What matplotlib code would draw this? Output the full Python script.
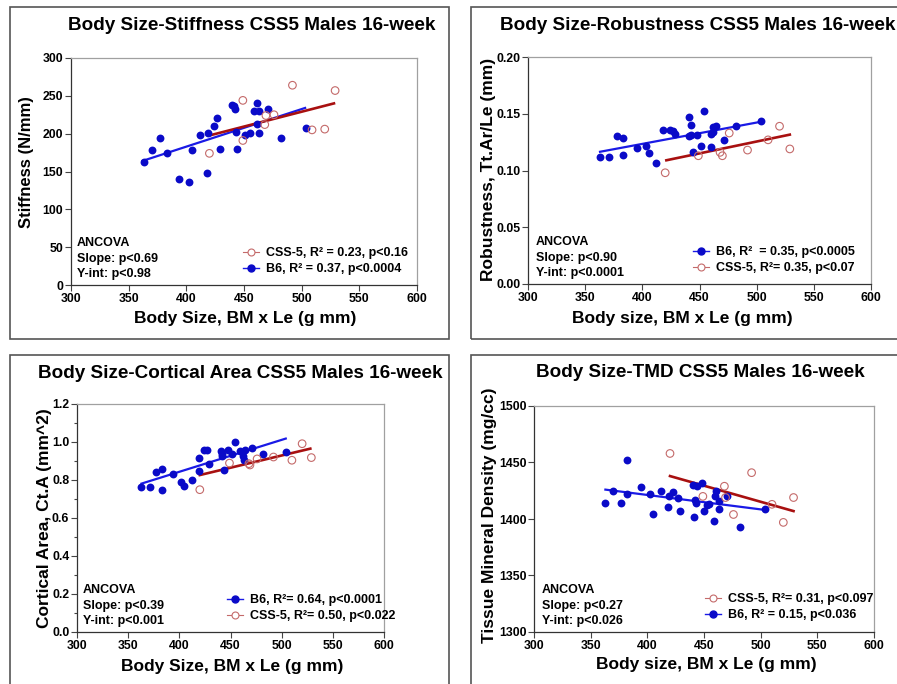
import numpy as np
import matplotlib
matplotlib.use("Agg")
import matplotlib.pyplot as plt
from matplotlib.patches import Rectangle
from matplotlib.lines import Line2D

plt.rcParams['font.family'] = ['Liberation Sans', 'DejaVu Sans']
plt.rcParams['font.weight'] = 'bold'

W, H = 897, 684

# ---- data ----
# Stiffness
stiff_b6_x = [363, 370, 377, 383, 394, 402, 405, 412, 418, 419, 424, 427, 429, 440,
              441, 442, 443, 444, 451, 455, 459, 461, 461, 463, 463, 471, 482, 504]
stiff_b6_y = [163, 178, 194, 175, 140, 136, 179, 198, 148, 201, 210, 221, 180, 238,
              236, 233, 202, 180, 198, 201, 230, 240, 213, 230, 201, 232, 194, 208]
stiff_css_x = [420, 449, 449, 468, 469, 476, 492, 509, 520, 529]
stiff_css_y = [174, 244, 191, 212, 224, 225, 264, 205, 206, 257]
# regression lines (x range, fitted y at both ends)
stiff_b6_fit_x, stiff_b6_fit_y = [362, 503], [164, 234]
stiff_css_fit_x, stiff_css_fit_y = [421, 528], [198, 240]

# Robustness
rob_b6_x = [363, 371, 378, 383, 383, 395, 403, 406, 412, 418, 424, 427, 429, 441,
            443, 441, 443, 444, 448, 451, 454, 460, 460, 462, 464, 462, 471, 482, 504]
rob_b6_y = [0.112, 0.112, 0.130, 0.129, 0.114, 0.120, 0.122, 0.115, 0.107, 0.136,
            0.136, 0.135, 0.132, 0.147, 0.140, 0.130, 0.131, 0.116, 0.131, 0.122,
            0.152, 0.121, 0.132, 0.138, 0.139, 0.134, 0.127, 0.139, 0.144]
rob_css_x = [420, 449, 468, 470, 476, 492, 510, 520, 529]
rob_css_y = [0.098, 0.113, 0.116, 0.113, 0.133, 0.118, 0.127, 0.139, 0.119]
rob_b6_fit_x, rob_b6_fit_y = [363, 504], [0.1165, 0.1430]
rob_css_fit_x, rob_css_fit_y = [421, 529], [0.1090, 0.1316]

# Cortical area
ct_b6_x = [363, 371, 377, 383, 383, 394, 402, 405, 412, 419, 419, 424, 427, 429,
           441, 442, 442, 444, 448, 451, 454, 459, 462, 463, 464, 471, 482, 504]
ct_b6_y = [0.761, 0.765, 0.842, 0.858, 0.749, 0.830, 0.788, 0.770, 0.802, 0.914,
           0.847, 0.956, 0.960, 0.886, 0.954, 0.937, 0.925, 0.854, 0.960, 0.937,
           0.998, 0.954, 0.925, 0.907, 0.960, 0.968, 0.937, 0.947]
ct_css_x = [420, 449, 468, 469, 476, 492, 510, 520, 529]
ct_css_y = [0.749, 0.889, 0.886, 0.879, 0.911, 0.921, 0.904, 0.991, 0.918]
ct_b6_fit_x, ct_b6_fit_y = [363, 504], [0.781, 1.018]
ct_css_fit_x, ct_css_fit_y = [420, 528], [0.826, 0.965]

# Tissue mineral density
tmd_b6_x = [363, 370, 377, 382, 382, 394, 402, 405, 412, 418, 419, 423, 427, 429,
            440, 444, 448, 441, 442, 443, 450, 453, 454, 459, 460, 461, 463, 463,
            470, 482, 504]
tmd_b6_y = [1414, 1425, 1414, 1452, 1422, 1428, 1422, 1404, 1425, 1411, 1420, 1424,
            1419, 1407, 1430, 1429, 1432, 1402, 1417, 1414, 1407, 1412, 1413, 1398,
            1420, 1425, 1416, 1409, 1420, 1393, 1409]
tmd_css_x = [420, 449, 468, 469, 476, 492, 510, 520, 529]
tmd_css_y = [1458, 1420, 1429, 1419, 1404, 1441, 1413, 1397, 1419]
tmd_b6_fit_x, tmd_b6_fit_y = [363, 504], [1426, 1408]
tmd_css_fit_x, tmd_css_fit_y = [420, 529], [1438, 1407]

x_ticks = [300, 350, 400, 450, 500, 550, 600]

B6_DOT = '#0a0ac8'
B6_LINE = '#1a1ae6'
CSS_DOT = '#c46a6a'
CSS_LINE = '#a81010'

fig = plt.figure(figsize=(W / 100, H / 100), dpi=100)


def fx(px):
    return px / W


def fy(py):
    return 1 - py / H


def add_box(x0, y0, x1, y1):
    fig.add_artist(Rectangle((fx(x0), fy(y1)), fx(x1 - x0), (y1 - y0) / H,
                             transform=fig.transFigure, fill=False,
                             edgecolor='#555555', linewidth=1.2))


def panel(rect, b6x, b6y, cssx, cssy, b6fit, cssfit, ylim, yticks, yfmt, minor=None):
    l, t, r, b = rect
    ax = fig.add_axes([fx(l), fy(b), (r - l) / W, (b - t) / H])
    ax.scatter(b6x, b6y, s=32, color=B6_DOT, zorder=3, linewidths=0)
    ax.scatter(cssx, cssy, s=30, facecolors='none', edgecolors=CSS_DOT,
               linewidths=0.8, zorder=3)
    ax.plot(b6fit[0], b6fit[1], color=B6_LINE, lw=1.6, zorder=2)
    ax.plot(cssfit[0], cssfit[1], color=CSS_LINE, lw=1.9, zorder=2)
    ax.set_xlim(300, 600)
    ax.set_ylim(*ylim)
    ax.set_xticks(x_ticks)
    ax.set_yticks(yticks)
    ax.set_yticklabels([yfmt.format(v) for v in yticks])
    if minor is not None:
        ax.set_yticks(minor, minor=True)
    ax.tick_params(direction='out', length=4, width=0.8, color='#444444',
                   labelsize=8.8, pad=1.5)
    ax.tick_params(which='minor', direction='out', length=2.5, width=0.8,
                   color='#444444')
    for s in ('left', 'bottom'):
        ax.spines[s].set_color('#333333')
        ax.spines[s].set_linewidth(0.9)
    for s in ('top', 'right'):
        ax.spines[s].set_color('#a0a0a0')
        ax.spines[s].set_linewidth(0.9)
    for lab in ax.get_xticklabels() + ax.get_yticklabels():
        lab.set_fontweight('bold')
    return ax


def ancova(x, y, slope, yint):
    for i, s in enumerate(['ANCOVA', slope, yint]):
        fig.text(fx(x), fy(y + 15.5 * i), s, fontsize=9, fontweight='bold',
                 ha='left', va='center')


def legend(ax, order, labels, x, y):
    b6 = Line2D([], [], color=B6_LINE, lw=1.0, marker='o', ms=5,
                markerfacecolor=B6_DOT, markeredgecolor=B6_DOT)
    css = Line2D([], [], color=CSS_DOT, lw=0.8, marker='o', ms=5,
                 markerfacecolor='white', markeredgecolor=CSS_DOT, markeredgewidth=0.8)
    handles = [b6 if o == 'b6' else css for o in order]
    ax.legend(handles, labels, loc='upper left', bbox_to_anchor=(fx(x), fy(y)),
              bbox_transform=fig.transFigure, frameon=False,
              handlelength=1.3, handletextpad=0.5, labelspacing=0.35,
              borderpad=0, borderaxespad=0, prop={'weight': 'bold', 'size': 9})


# panel boxes
add_box(10, 7, 449, 339)
add_box(471, 7, 920, 339)
add_box(10, 355, 449, 700)
add_box(471, 355, 920, 700)

TITLE = 13.6
LABEL = 12.5

# ---- panel 1: stiffness ----
ax1 = panel((71, 58, 417, 285), stiff_b6_x, stiff_b6_y, stiff_css_x, stiff_css_y,
            (stiff_b6_fit_x, stiff_b6_fit_y), (stiff_css_fit_x, stiff_css_fit_y),
            (0, 300), [0, 50, 100, 150, 200, 250, 300], '{:d}')
fig.text(fx(252), fy(26), 'Body Size-Stiffness CSS5 Males 16-week', fontsize=TITLE,
         fontweight='bold', ha='center', va='center')
fig.text(fx(245), fy(318), 'Body Size, BM x Le (g mm)', fontsize=LABEL,
         fontweight='bold', ha='center', va='center')
fig.text(fx(27), fy(162), 'Stiffness (N/mm)', fontsize=12.0, fontweight='bold',
         ha='center', va='center', rotation=90)
ancova(77, 243, 'Slope: p<0.69', 'Y-int: p<0.98')
legend(ax1, ['css', 'b6'], ['CSS-5, R² = 0.23, p<0.16', 'B6, R² = 0.37, p<0.0004'],
       243, 247)

# ---- panel 2: robustness ----
ax2 = panel((528, 57, 871, 284), rob_b6_x, rob_b6_y, rob_css_x, rob_css_y,
            (rob_b6_fit_x, rob_b6_fit_y), (rob_css_fit_x, rob_css_fit_y),
            (0, 0.2), [0.0, 0.05, 0.10, 0.15, 0.20], '{:.2f}')
fig.text(fx(500), fy(26), 'Body Size-Robustness CSS5 Males 16-week', fontsize=TITLE,
         fontweight='bold', ha='left', va='center')
fig.text(fx(682), fy(319), 'Body size, BM x Le (g mm)', fontsize=LABEL,
         fontweight='bold', ha='center', va='center')
fig.text(fx(488), fy(169), 'Robustness, Tt.Ar/Le (mm)', fontsize=LABEL,
         fontweight='bold', ha='center', va='center', rotation=90)
ancova(536, 242, 'Slope: p<0.90', 'Y-int: p<0.0001')
legend(ax2, ['b6', 'css'], ['B6, R²  = 0.35, p<0.0005', 'CSS-5, R²= 0.35, p<0.07'],
       693, 246)

# ---- panel 3: cortical area ----
ax3 = panel((77, 404, 384, 632), ct_b6_x, ct_b6_y, ct_css_x, ct_css_y,
            (ct_b6_fit_x, ct_b6_fit_y), (ct_css_fit_x, ct_css_fit_y),
            (0, 1.2), [0.0, 0.2, 0.4, 0.6, 0.8, 1.0, 1.2], '{:.1f}',
            minor=[0.1, 0.3, 0.5, 0.7, 0.9, 1.1])
fig.text(fx(240), fy(374), 'Body Size-Cortical Area CSS5 Males 16-week', fontsize=TITLE,
         fontweight='bold', ha='center', va='center')
fig.text(fx(232), fy(666), 'Body Size, BM x Le (g mm)', fontsize=LABEL,
         fontweight='bold', ha='center', va='center')
fig.text(fx(45), fy(518), 'Cortical Area, Ct.A (mm^2)', fontsize=LABEL,
         fontweight='bold', ha='center', va='center', rotation=90)
ancova(83, 590, 'Slope: p<0.39', 'Y-int: p<0.001')
legend(ax3, ['b6', 'css'], ['B6, R²= 0.64, p<0.0001', 'CSS-5, R²= 0.50, p<0.022'],
       227, 594)

# ---- panel 4: TMD ----
ax4 = panel((534, 406, 874, 632), tmd_b6_x, tmd_b6_y, tmd_css_x, tmd_css_y,
            (tmd_b6_fit_x, tmd_b6_fit_y), (tmd_css_fit_x, tmd_css_fit_y),
            (1300, 1500), [1300, 1350, 1400, 1450, 1500], '{:d}')
fig.text(fx(700), fy(373), 'Body Size-TMD CSS5 Males 16-week', fontsize=TITLE,
         fontweight='bold', ha='center', va='center')
fig.text(fx(706), fy(665), 'Body size, BM x Le (g mm)', fontsize=LABEL,
         fontweight='bold', ha='center', va='center')
fig.text(fx(489), fy(515), 'Tissue Mineral Density (mg/cc)', fontsize=LABEL,
         fontweight='bold', ha='center', va='center', rotation=90)
ancova(542, 590, 'Slope: p<0.27', 'Y-int: p<0.026')
legend(ax4, ['css', 'b6'], ['CSS-5, R²= 0.31, p<0.097', 'B6, R² = 0.15, p<0.036'],
       705, 593)

fig.savefig('out.png', dpi=100)
